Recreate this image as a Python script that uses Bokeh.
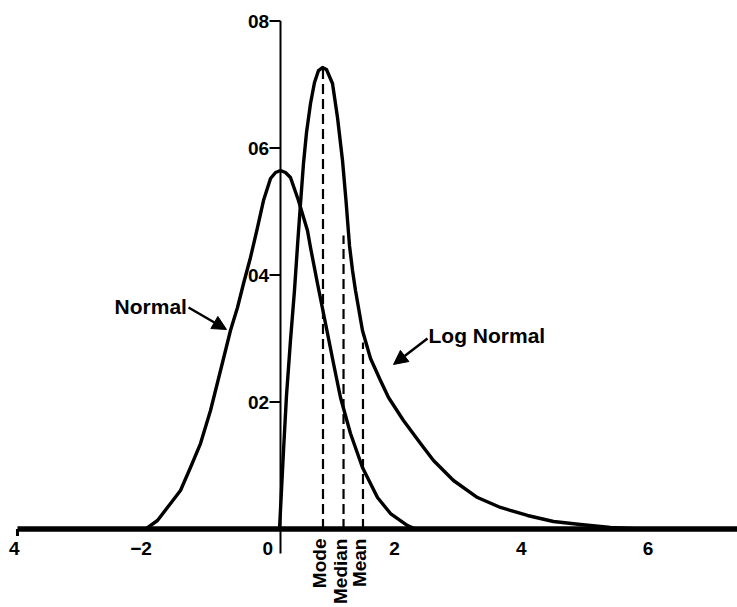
from bokeh.plotting import figure
from bokeh.models import Arrow, NormalHead
from bokeh.core.properties import value
from bokeh.embed import file_html
from bokeh.resources import INLINE
import math

# ---------------- data ----------------
normal_x = [-1.930, -1.741, -1.535, -1.378, -1.220, -1.062, -0.904, -0.746, -0.589,
            -0.478, -0.383, -0.273, -0.163, -0.068, 0.043, 0.122, 0.200, 0.279,
            0.358, 0.484, 0.626, 0.674, 0.784, 0.911, 1.037, 1.147, 1.305, 1.494,
            1.731, 1.936, 2.205, 2.331]
normal_y = [0.0, 0.00134, 0.00402, 0.00606, 0.00969, 0.01346, 0.01866, 0.02496, 0.03126,
            0.03488, 0.03866, 0.04276, 0.04748, 0.05173, 0.05520, 0.05614, 0.05646, 0.05614,
            0.05535, 0.05173, 0.04701, 0.04433, 0.03866, 0.03236, 0.02606, 0.02071, 0.01504,
            0.00969, 0.00496, 0.00244, 0.00055, 0.0]

lognormal_x = [0.185, 0.216, 0.248, 0.295, 0.358, 0.421, 0.469, 0.516, 0.563, 0.611,
               0.674, 0.737, 0.800, 0.863, 0.926, 1.021, 1.100, 1.179, 1.234, 1.289,
               1.337, 1.384, 1.494, 1.621, 1.778, 1.905, 2.141, 2.410, 2.615, 2.930,
               3.309, 3.672, 4.098, 4.508, 4.935, 5.408, 5.881]
lognormal_y = [0.0, 0.00606, 0.01236, 0.02102, 0.02969, 0.03756, 0.04465, 0.05126, 0.05756,
               0.06244, 0.06701, 0.07031, 0.07220, 0.07268, 0.07236, 0.07016, 0.06480,
               0.05803, 0.05173, 0.04465, 0.04071, 0.03756, 0.03126, 0.02685, 0.02339,
               0.02071, 0.01709, 0.01346, 0.01079, 0.00764, 0.00496, 0.00339, 0.00213,
               0.00118, 0.00071, 0.00024, 0.0]

stat_names = ["Mode", "Median", "Mean"]
stat_x = [0.871, 1.195, 1.502]
stat_top = [0.07268, 0.04622, 0.02937]

x_tick_values = [-4, -2, 0, 2, 4, 6]
x_tick_labels = ["4", "\u22122", "0", "2", "4", "6"]
y_tick_values = [0.02, 0.04, 0.06, 0.08]
y_tick_labels = ["02", "04", "06", "08"]

curve_labels = ["Normal", "Log Normal"]
curve_label_x = [-2.418, 2.536]
curve_label_y = [0.03504, 0.03047]
arrow_start_x = [-1.251, 2.520]
arrow_start_y = [0.03488, 0.03000]
arrow_end_x = [-0.652, 1.984]
arrow_end_y = [0.03142, 0.02591]

# ---------------- layout constants ----------------
Y_AXIS_X = 0.2004
X_AXIS_START = -3.95
X_RANGE = (-4.218, 7.412)
Y_RANGE = (-0.01236, 0.08323)
FONT = value("Liberation Sans")

p = figure(width=737, height=607, x_range=X_RANGE, y_range=Y_RANGE,
           output_backend="svg", toolbar_location=None,
           x_axis_location=None, y_axis_location=None,
           min_border=0, outline_line_color=None)
p.grid.visible = False
p.background_fill_color = "white"
p.border_fill_color = "white"

# x axis line
p.segment(x0=[X_AXIS_START], y0=[0], x1=[X_RANGE[1]], y1=[0], line_color="black", line_width=5.5)
p.segment(x0=[X_AXIS_START], y0=[0], x1=[X_AXIS_START], y1=[-0.0011], line_color="black", line_width=3)
# y axis line (crosses below the x axis)
p.segment(x0=[Y_AXIS_X], y0=[-0.00386], x1=[Y_AXIS_X], y1=[0.08], line_color="black", line_width=2)
# y ticks
p.segment(x0=[0.027] * len(y_tick_values), y0=y_tick_values,
          x1=[Y_AXIS_X] * len(y_tick_values), y1=y_tick_values,
          line_color="black", line_width=2)
p.text(x=[0.022] * len(y_tick_values), y=y_tick_values, text=y_tick_labels,
       text_font=FONT, text_font_style="bold", text_font_size="19px",
       text_align="right", text_baseline="middle", text_color="black")
# x tick labels
p.text(x=x_tick_values, y=[-0.00307] * len(x_tick_values), text=x_tick_labels,
       text_font=FONT, text_font_style="bold", text_font_size="19px",
       text_align="center", text_baseline="middle", text_color="black")

# curves
p.line(normal_x, normal_y, line_color="black", line_width=3.4, line_join="round")
p.line(lognormal_x, lognormal_y, line_color="black", line_width=3.4, line_join="round")

# dashed statistic lines
p.segment(x0=stat_x, y0=[0] * 3, x1=stat_x, y1=stat_top,
          line_color="black", line_width=2.2, line_dash="10 5")
p.text(x=stat_x, y=[-0.0015] * 3, text=stat_names, angle=math.pi / 2,
       x_offset=-3, text_font=FONT, text_font_style="bold", text_font_size="19px",
       text_align="right", text_baseline="middle", text_color="black")

# curve labels and arrows
p.text(x=curve_label_x, y=curve_label_y, text=curve_labels,
       text_font=FONT, text_font_style="bold", text_font_size="21px",
       text_align="left", text_baseline="alphabetic", text_color="black")
for xs, ys, xe, ye in zip(arrow_start_x, arrow_start_y, arrow_end_x, arrow_end_y):
    p.add_layout(Arrow(x_start=xs, y_start=ys, x_end=xe, y_end=ye,
                       line_color="black", line_width=2.5,
                       end=NormalHead(size=14, fill_color="black", line_color="black", line_width=1)))

open("out.html", "w").write(file_html(p, INLINE))
